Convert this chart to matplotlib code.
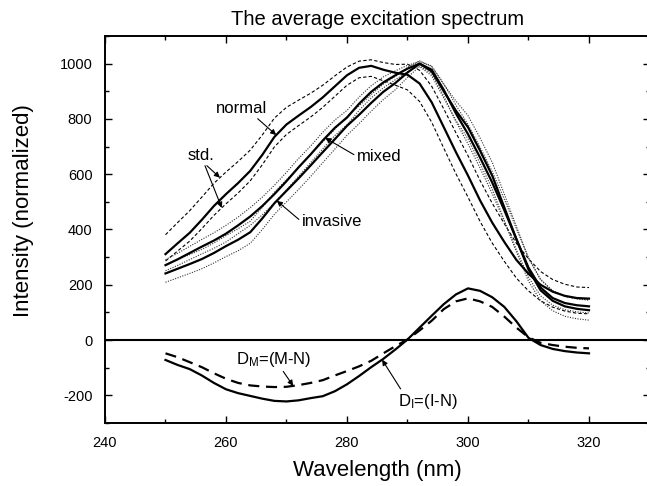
import numpy as np
import matplotlib
matplotlib.use("Agg")
import matplotlib.pyplot as plt

# ----------
# > Data <
# ----------
wavelength = np.arange(250, 321, 2)

normal = [311, 350, 388, 435, 485, 528, 568, 612, 670, 735, 780, 812, 843, 878, 918, 958, 985, 992,
          978, 967, 960, 928, 860, 770, 680, 595, 505, 425, 355, 290, 240, 200, 175, 160, 152, 150]
mixed = [271, 292, 315, 338, 360, 385, 415, 447, 485, 528, 575, 625, 672, 722, 768, 805, 855, 898,
         932, 958, 982, 1000, 978, 905, 820, 745, 660, 570, 470, 365, 262, 190, 152, 134, 126, 122]
invasive = [241, 258, 275, 293, 315, 340, 363, 390, 440, 495, 540, 585, 632, 680, 727, 775, 815, 858,
            898, 930, 968, 1000, 972, 900, 830, 770, 685, 595, 480, 365, 255, 180, 142, 122, 113, 108]

# std offsets (upper / lower) of the normal mean, symmetric std for the others
normal_std_up = [70, 75, 80, 82, 82, 80, 78, 75, 72, 68, 62, 56, 50, 44, 38, 30, 24, 22,
                 26, 30, 38, 48, 58, 66, 70, 72, 72, 70, 66, 60, 54, 48, 44, 42, 40, 40]
normal_std_dn = [25, 28, 30, 32, 34, 35, 36, 36, 36, 36, 36, 36, 36, 36, 36, 36, 36, 38,
                 40, 45, 55, 65, 72, 76, 78, 78, 76, 74, 70, 66, 62, 58, 56, 55, 55, 55]
mixed_std = [20, 22, 24, 26, 28, 30, 30, 32, 32, 32, 32, 32, 30, 30, 28, 26, 24, 22,
             20, 16, 12, 8, 14, 22, 30, 35, 38, 40, 40, 38, 35, 30, 26, 24, 24, 24]
invasive_std = [32, 33, 34, 35, 36, 38, 40, 40, 40, 40, 40, 40, 40, 38, 36, 34, 32, 30,
                28, 24, 18, 10, 16, 25, 35, 42, 46, 48, 48, 46, 42, 38, 36, 36, 36, 36]

# difference spectra
diff_invasive = [-72, -90, -105, -128, -155, -178, -192, -202, -212, -220, -222, -218, -210, -203, -185, -160, -130, -98,
                 -68, -34, 2, 45, 88, 130, 165, 187, 178, 155, 120, 68, 8, -18, -32, -40, -45, -48]
diff_mixed = [-48, -62, -80, -98, -120, -140, -155, -164, -168, -170, -169, -163, -155, -145, -128, -112, -95, -75,
              -48, -22, 2, 35, 70, 112, 140, 151, 140, 120, 85, 45, 10, -10, -18, -24, -28, -30]

x_ticks = [240, 260, 280, 300, 320]
y_ticks = [-200, 0, 200, 400, 600, 800, 1000]

# ---------------
# > Plotting <
# ---------------
plt.rcParams["font.family"] = ["Liberation Sans", "DejaVu Sans"]
plt.rcParams["mathtext.default"] = "regular"
plt.rcParams["axes.unicode_minus"] = False

normal = np.array(normal)
mixed = np.array(mixed)
invasive = np.array(invasive)

fig = plt.figure(figsize=(6.47, 4.86), dpi=100)
ax = fig.add_axes([105 / 647, 63 / 486, 544.5 / 647, 387 / 486])

STD_DASH = (0, (3, 2))
STD_DOT = (0, (1, 1.3))

# std lines
ax.plot(wavelength, normal + np.array(normal_std_up), color="black", lw=0.8, linestyle=STD_DASH)
ax.plot(wavelength, normal - np.array(normal_std_dn), color="black", lw=0.8, linestyle=STD_DASH)
ax.plot(wavelength, mixed + np.array(mixed_std), color="#333333", lw=0.8, linestyle=STD_DOT)
ax.plot(wavelength, mixed - np.array(mixed_std), color="#333333", lw=0.8, linestyle=STD_DOT)
ax.plot(wavelength, invasive + np.array(invasive_std), color="#333333", lw=0.8, linestyle=STD_DOT)
ax.plot(wavelength, invasive - np.array(invasive_std), color="#333333", lw=0.8, linestyle=STD_DOT)

# mean spectra
ax.plot(wavelength, normal, color="black", lw=1.6)
ax.plot(wavelength, mixed, color="black", lw=1.6)
ax.plot(wavelength, invasive, color="black", lw=1.6)

# differences
ax.axhline(0, color="black", lw=1.5)
ax.plot(wavelength, diff_invasive, color="black", lw=1.6)
ax.plot(wavelength, diff_mixed, color="black", lw=1.6, linestyle=(0, (5, 3)))

# annotations
arrow = dict(arrowstyle="-|>", color="black", lw=0.8, mutation_scale=8, shrinkA=0, shrinkB=0)
fs = 12

ax.annotate("normal", xy=(268.3, np.interp(268.3, wavelength, normal)), xytext=(262.6, 838),
            ha="center", va="center", fontsize=fs, arrowprops=dict(arrow, relpos=(0.75, 0.0)))
std_up = normal + np.array(normal_std_up)
std_dn = normal - np.array(normal_std_dn)
ax.annotate("std.", xy=(259.0, np.interp(259.0, wavelength, std_up)), xytext=(255.9, 668),
            ha="center", va="center", fontsize=fs, arrowprops=dict(arrow, relpos=(0.6, 0.0)))
ax.annotate("std.", xy=(259.3, np.interp(259.3, wavelength, std_dn)), xytext=(255.9, 668),
            ha="center", va="center", fontsize=fs, color="none", arrowprops=dict(arrow, relpos=(0.6, 0.0)))
ax.annotate("mixed", xy=(276.4, np.interp(276.4, wavelength, mixed)), xytext=(281.6, 665),
            ha="left", va="center", fontsize=fs, arrowprops=dict(arrow, relpos=(0.0, 0.5)))
ax.annotate("invasive", xy=(268.4, np.interp(268.4, wavelength, invasive)), xytext=(272.5, 428),
            ha="left", va="center", fontsize=fs, arrowprops=dict(arrow, relpos=(0.0, 0.5)))
ax.annotate("D$_{M}$=(M-N)", xy=(271.1, np.interp(271.1, wavelength, diff_mixed)), xytext=(267.9, -69),
            ha="center", va="center", fontsize=fs, arrowprops=dict(arrow, relpos=(0.6, 0.0)))
ax.annotate("D$_{I}$=(I-N)", xy=(285.8, np.interp(285.8, wavelength, diff_invasive)), xytext=(293.3, -221),
            ha="center", va="center", fontsize=fs, arrowprops=dict(arrow, relpos=(0.1, 0.9)))

# axes
ax.set_xlim(240, 330)
ax.set_ylim(-300, 1100)
ax.set_xticks(x_ticks)
ax.set_yticks(y_ticks)
ax.set_xticks(np.arange(250, 331, 20), minor=True)
ax.set_yticks(np.arange(-300, 1101, 200), minor=True)
ax.tick_params(which="both", direction="in", top=True, right=True, labelsize=10.5, width=1.0)
ax.tick_params(which="major", length=5)
ax.tick_params(which="minor", length=3)
ax.tick_params(axis="x", pad=9)
ax.tick_params(axis="y", pad=9)
for s in ax.spines.values():
    s.set_linewidth(1.4)

ax.set_xlabel("Wavelength (nm)", fontsize=16)
ax.set_ylabel("Intensity (normalized)", fontsize=16)
ax.xaxis.set_label_coords(0.5, -0.095)
ax.yaxis.set_label_coords(-0.13, 0.55)
ax.set_title("The average excitation spectrum", fontsize=14.5, pad=8)

fig.savefig("out.png", dpi=100)
plt.close(fig)
